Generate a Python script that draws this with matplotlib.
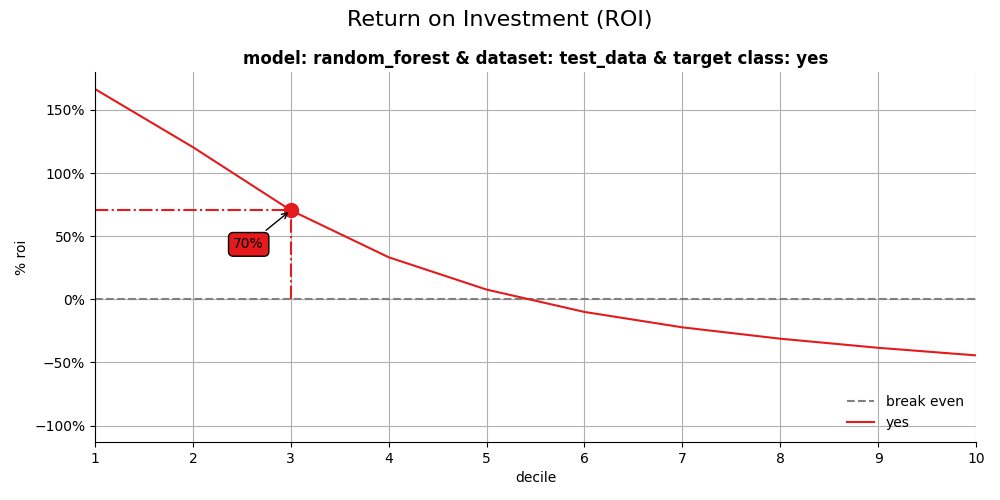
import matplotlib
matplotlib.use("Agg")
import matplotlib.pyplot as plt
from matplotlib.ticker import FuncFormatter

# ROI per decile
deciles = [1, 2, 3, 4, 5, 6, 7, 8, 9, 10]
roi = [166.5, 120.5, 70.5, 33.3, 7.7, -10.0, -22.2, -31.2, -38.4, -44.4]
highlight_decile = 3
highlight_label = "70%"

RED = "#e41a1c"

fig, ax = plt.subplots(figsize=(10, 5), dpi=100)
fig.subplots_adjust(left=0.095, right=0.976, top=0.856, bottom=0.116)
fig.suptitle("Return on Investment (ROI)", fontsize=16)
ax.set_title("model: random_forest & dataset: test_data & target class: yes",
             fontsize=12, fontweight="bold")

ax.plot(deciles, [0] * len(deciles), color="grey", linestyle="--", label="break even")
ax.plot(deciles, roi, color=RED, label="yes")

# highlight point
hy = roi[deciles.index(highlight_decile)]
ax.plot(highlight_decile, hy, "o", color=RED, markersize=10)
ax.plot([deciles[0], highlight_decile], [hy, hy], color=RED, linestyle="-.")
ax.plot([highlight_decile, highlight_decile], [0, hy], color=RED, linestyle="-.")
ax.annotate(highlight_label, xy=(highlight_decile, hy),
            xytext=(highlight_decile - 0.43, hy - 27),
            ha="center", va="center", fontsize=10,
            bbox=dict(boxstyle="round,pad=0.35", facecolor=RED, edgecolor="black"),
            arrowprops=dict(arrowstyle="->", color="black"))

ax.set_xlim(1, 10)
ax.set_ylim(-113, 180)
ax.set_xticks(deciles)
ax.set_yticks([-100, -50, 0, 50, 100, 150])
ax.yaxis.set_major_formatter(
    FuncFormatter(lambda v, p: f"{v:.0f}%".replace("-", "\u2212")))
ax.set_xlabel("decile")
ax.set_ylabel("% roi")
ax.grid(True, color="#b0b0b0")
ax.spines["top"].set_visible(False)
ax.spines["right"].set_visible(False)
ax.legend(loc="lower right", frameon=False)

fig.savefig("out.png")
